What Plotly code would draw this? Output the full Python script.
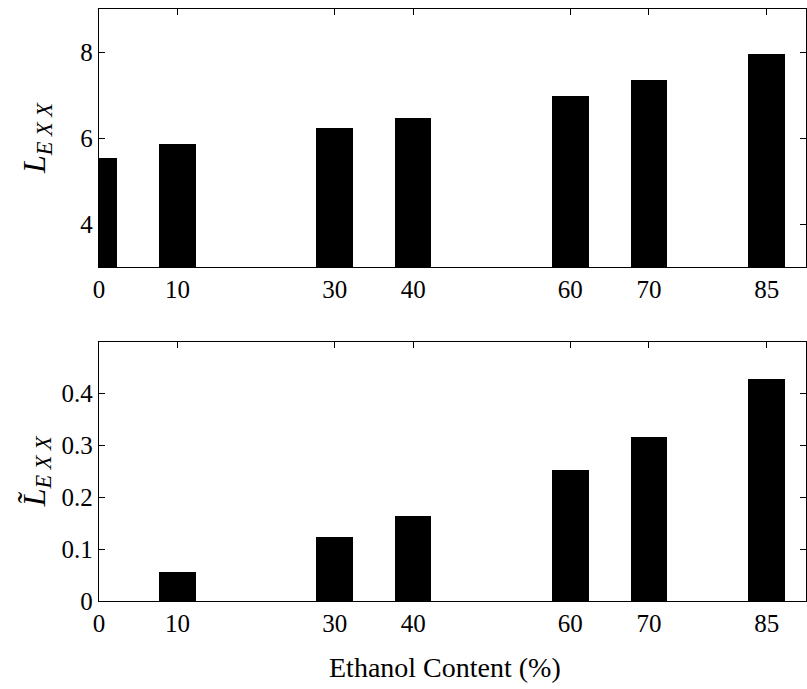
import plotly.graph_objects as go
from plotly.subplots import make_subplots

# Ethanol blend levels (%)
ethanol = [0, 10, 30, 40, 60, 70, 85]
# Absolute expansion measure L_EXX
l_exx = [5.54, 5.86, 6.23, 6.47, 6.98, 7.34, 7.95]
# Normalised expansion measure relative to pure gasoline
l_exx_rel = [0.0, 0.056, 0.124, 0.165, 0.254, 0.317, 0.429]

top_ticks = [4, 6, 8]
bottom_ticks = [0, 0.1, 0.2, 0.3, 0.4]
bottom_tick_text = ["0", "0.1", "0.2", "0.3", "0.4"]

W, H = 807, 689
ML, MR, MT, MB = 99, 1, 9, 88
plot_h = H - MT - MB

font_family = "Liberation Serif"

fig = make_subplots(rows=2, cols=1, vertical_spacing=0.0)

bar_width = 4.65
fig.add_trace(go.Bar(x=ethanol, y=l_exx, width=bar_width,
                     marker=dict(color="black", line=dict(width=0))),
              row=1, col=1)
fig.add_trace(go.Bar(x=ethanol, y=l_exx_rel, width=bar_width,
                     marker=dict(color="black", line=dict(width=0))),
              row=2, col=1)

axis_common = dict(
    showline=True, linecolor="black", linewidth=1.3, mirror="ticks",
    ticks="inside", ticklen=6, tickwidth=1, tickcolor="black",
    showgrid=False, zeroline=False,
    tickfont=dict(family=font_family, size=25, color="black"),
)

for r in (1, 2):
    fig.update_xaxes(range=[0, 90], tickmode="array", tickvals=ethanol,
                     ticktext=[str(v) for v in ethanol], row=r, col=1,
                     **axis_common)

fig.update_yaxes(range=[3, 9], tickmode="array", tickvals=top_ticks,
                 row=1, col=1, **axis_common)
fig.update_yaxes(range=[0, 0.5], tickmode="array", tickvals=bottom_ticks,
                 ticktext=bottom_tick_text, row=2, col=1, **axis_common)

# vertical placement of the two panels (pixel rows 9-267 and 342-601)
fig.update_layout(
    yaxis=dict(domain=[(H - MB - 267) / plot_h, 1.0]),
    yaxis2=dict(domain=[0.0, (H - MB - 341.7) / plot_h]),
)

fig.add_annotation(text="<i>L</i><sub><i>E X X</i></sub>",
                   xref="paper", yref="y domain", x=0, y=0.5,
                   xanchor="center", yanchor="middle",
                   xshift=-63, textangle=-90, showarrow=False,
                   font=dict(family=font_family, size=32, color="black"))
fig.add_annotation(text="<i>L̃</i><sub><i>E X X</i></sub>",
                   xref="paper", yref="y2 domain", x=0, y=0.5,
                   xanchor="center", yanchor="middle",
                   xshift=-63, textangle=-90, showarrow=False,
                   font=dict(family=font_family, size=32, color="black"))
fig.add_annotation(text="Ethanol Content (%)",
                   xref="paper", yref="paper", x=0.489, y=0,
                   xanchor="center", yanchor="middle",
                   yshift=-66, showarrow=False,
                   font=dict(family=font_family, size=28, color="black"))

fig.update_layout(
    width=W, height=H,
    margin=dict(l=ML, r=MR, t=MT, b=MB),
    paper_bgcolor="white", plot_bgcolor="white",
    showlegend=False, bargap=0,
)

fig.write_html("out.html")
